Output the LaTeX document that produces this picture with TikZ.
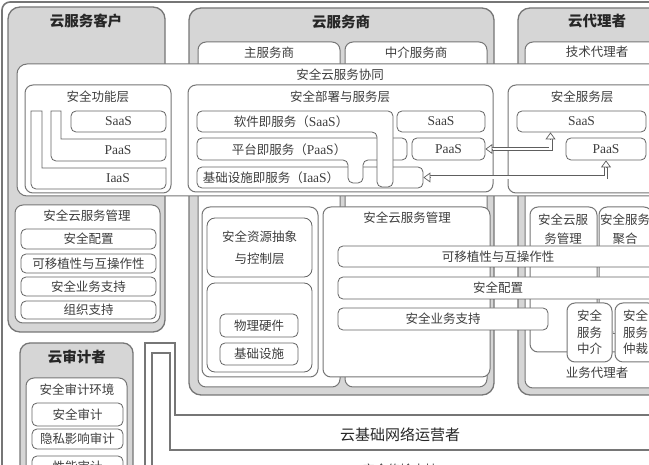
\documentclass[tikz,border=0pt]{standalone}
\usepackage{fontspec}
\setmainfont{Noto Sans CJK SC}
\newfontfamily\serifLat{Liberation Serif}
\newcommand\ltn[1]{{\serifLat\fontsize{13.5}{15}\selectfont #1}}
\usetikzlibrary{fit,arrows.meta,calc}
\definecolor{Edge}{RGB}{118,118,118}
\definecolor{Shade}{RGB}{214,214,214}
\definecolor{Ink}{RGB}{62,62,62}

\begin{document}
\begin{tikzpicture}[x=1pt,y=-1pt,inner sep=0pt,
 grp/.style={draw=Edge,line width=1.3pt,fill=Shade,rounded corners=12pt},
 pane/.style={draw=Edge,line width=1pt,fill=white,rounded corners=8pt},
 item/.style={draw=Edge!85!black,line width=.8pt,fill=white,rounded corners=5pt},
 ttl/.style={font=\fontsize{14.5}{16}\selectfont\bfseries,text=black!85},
 txt/.style={font=\fontsize{12.5}{16.5}\selectfont,text=Ink,align=center},
 wire/.style={draw=Edge,line width=1.3pt},
 dbl/.style={draw=Edge!80!black,line width=.7pt,double=white,double distance=2.6pt,shorten <=6pt,shorten >=6pt},
 tip/.style={-{Triangle[fill=white,length=7pt,width=10pt]},draw=Edge!80!black,line width=.7pt}]
\useasboundingbox (0,0) rectangle (649,465);
\draw[wire,line width=1.6pt,rounded corners=8pt] (2,2) rectangle (800,600);

% three parties on top
\node[grp,fit={(8,7) (165,332)}] (cust) {};
\node[ttl] (custt) at (86,21) {云服务客户};
\node[grp,fit={(189,8) (494,395)}] (prov) {};
\node[ttl] (provt) at (341,22) {云服务商};
\node[grp,fit={(518,8) (800,395)}] (brok) {};
\node[ttl] (brokt) at (597,21) {云代理者};
\node[pane,fit={(198,42) (340,387)}] (mainp) {};
\node[txt] (mainpt) at (269,53) {主服务商};
\node[pane,fit={(345,42) (487,387)}] (midp) {};
\node[txt] (midpt) at (416,53) {中介服务商};
\node[pane,fit={(525,42) (800,388)}] (tech) {};
\node[txt] (techt) at (597,52) {技术代理者};

% cooperation band
\node[pane,rounded corners=10pt,fit={(17,64) (800,196)}] (coop) {};
\node[txt] (coopt) at (340,75) {安全云服务协同};
\node[pane,fit={(25,85) (171,193)}] (funl) {};
\node[txt] (funlt) at (98,97) {安全功能层};
\node[item,fit={(71,111) (166,132)}] (csaas) {};
\node[txt] (csaast) at (csaas) {\ltn{SaaS}};
\draw[item,sharp corners] (51,111) -- (61,111) -- (61,139) -- (166,139) [rounded corners=5pt] -- (166,161) -- (51,161) [sharp corners] -- cycle;
\node[txt] (cpaas) at (118,150) {\ltn{PaaS}};
\draw[item,sharp corners] (31,111) -- (42,111) -- (42,168) -- (166,168) [rounded corners=5pt] -- (166,189) -- (31,189) [sharp corners] -- cycle;
\node[txt] (ciaas) at (118,178.5) {\ltn{IaaS}};

\node[pane,fit={(188,85) (493,192)}] (depl) {};
\node[txt] (deplt) at (340,97) {安全部署与服务层};
\node[item,fit={(197,167) (423,188)}] (piaas) {};
\node[txt] (piaast) at (271,178) {基础设施即服务（\ltn{IaaS}）};
\draw[item] (197,138) -- (407,138) -- (407,160) -- (363,160) -- (363,183) -- (348,183) -- (348,160) -- (197,160) -- cycle;
\node[txt] (ppaast) at (289,149.5) {平台即服务（\ltn{PaaS}）};
\draw[item] (197,111) -- (393,111) -- (393,187) -- (377,187) -- (377,132) -- (197,132) -- cycle;
\node[txt] (psaast) at (291,121.5) {软件即服务（\ltn{SaaS}）};
\node[item,fit={(397,111) (485,132)}] (psaas) {};
\node[txt] (psaast2) at (psaas) {\ltn{SaaS}};
\node[item,fit={(412,138) (485,160)}] (ppaas) {};
\node[txt] (ppaast2) at (ppaas) {\ltn{PaaS}};

\node[pane,fit={(508,85) (800,193)}] (svcl) {};
\node[txt] (svclt) at (582,97) {安全服务层};
\node[item,fit={(517,111) (646,132)}] (bsaas) {};
\node[txt] (bsaast) at (bsaas) {\ltn{SaaS}};
\node[item,fit={(566,138) (646,160)}] (bpaas) {};
\node[txt] (bpaast) at (bpaas) {\ltn{PaaS}};

\draw[dbl] ([xshift=-31pt]bsaas.south) |- (ppaas.east);
\draw[tip] ([xshift=-31pt,yshift=-7pt]bsaas.south) -- ([xshift=-31pt]bsaas.south);
\draw[tip] ([xshift=7pt]ppaas.east) -- (ppaas.east);
\draw[dbl] (bpaas.south) |- (piaas.east);
\draw[tip] ([yshift=-7pt]bpaas.south) -- (bpaas.south);
\draw[tip] ([xshift=7pt]piaas.east) -- (piaas.east);

% management
\node[pane,fit={(15,205) (160,323)}] (cmgmt) {};
\node[txt] (cmgmtt) at (87,216) {安全云服务管理};
\node[item,fit={(21,229) (156,249)}] (ccfg) {};
\node[txt] (ccfgt) at (ccfg) {安全配置};
\node[item,fit={(21,254) (156,273)}] (cport) {};
\node[txt] (cportt) at (cport) {可移植性与互操作性};
\node[item,fit={(21,277) (156,296)}] (cbiz) {};
\node[txt] (cbizt) at (cbiz) {安全业务支持};
\node[item,fit={(21,301) (156,319)}] (corg) {};
\node[txt] (corgt) at (corg) {组织支持};

\node[pane,fit={(202,207) (318,377)}] (rcol) {};
\node[item,rounded corners=8pt,fit={(207,218) (312,277)}] (rabs) {};
\node[txt,font=\fontsize{12.5}{22}\selectfont] (rabst) at (rabs) {安全资源抽象\\与控制层};
\node[item,rounded corners=8pt,fit={(207,283) (312,372)}] (rhw) {};
\node[item,fit={(220,314) (298,337)}] (rphy) {};
\node[txt] (rphyt) at (rphy) {物理硬件};
\node[item,fit={(220,343) (298,365)}] (rinf) {};
\node[txt] (rinft) at (rinf) {基础设施};

\node[pane,fit={(323,207) (490,377)}] (pmgmt) {};
\node[txt] (pmgmtt) at (407,218) {安全云服务管理};

\node[pane,fit={(530,207) (597,352)}] (bmgmt) {};
\node[txt,font=\fontsize{12.5}{19}\selectfont] (bmgmtt) at (563,229) {安全云服\\务管理};
\node[pane,fit={(599,207) (652,352)}] (bagg) {};
\node[txt,font=\fontsize{12.5}{19}\selectfont] (baggt) at (625,229) {安全服务\\聚合};

\node[item,fit={(338,246) (800,267)}] (port) {};
\node[txt] (portt) at (498,256.5) {可移植性与互操作性};
\node[item,fit={(338,277) (800,299)}] (cfg) {};
\node[txt] (cfgt) at (498,288) {安全配置};
\node[item,fit={(338,308) (548,330)}] (biz) {};
\node[txt] (bizt) at (biz) {安全业务支持};

\node[pane,fit={(567,303) (612,362)}] (bmed) {};
\node[txt] (bmedt) at (bmed) {安全\\服务\\中介};
\node[pane,fit={(615,303) (656,362)}] (barb) {};
\node[txt] (barbt) at (barb) {安全\\服务\\仲裁};
\draw[draw=Edge,line width=.6pt,double=Shade,double distance=2pt] (bmed.east) -- (barb.west);
\node[txt] (bbiz) at (597,373) {业务代理者};

% auditor
\node[grp,rounded corners=10pt,fit={(20,343) (133,560)}] (aud) {};
\node[ttl] (audt) at (77,357) {云审计者};
\node[pane,fit={(26,378) (127,560)}] (aenv) {};
\node[txt] (aenvt) at (77,390) {安全审计环境};
\node[item,fit={(32,403) (123,426)}] (asec) {};
\node[txt] (asect) at (asec) {安全审计};
\node[item,fit={(32,429) (123,449)}] (apriv) {};
\node[txt] (aprivt) at (apriv) {隐私影响审计};
\node[item,fit={(32,456) (123,478)}] (aperf) {};
\node[txt] (aperft) at (aperf) {性能审计};

% network operator
\draw[wire] (145,600) -- (145,343) -- (175,343) -- (175,415) -- (800,415);
\draw[wire] (152,600) -- (152,353) -- (170,353) -- (170,450) -- (800,450);
\node[font=\fontsize{15}{17}\selectfont,text=black!85] (netop) at (400,435) {云基础网络运营者};
\node[txt] (trans) at (400,470) {安全传输支持};
\end{tikzpicture}
\end{document}
